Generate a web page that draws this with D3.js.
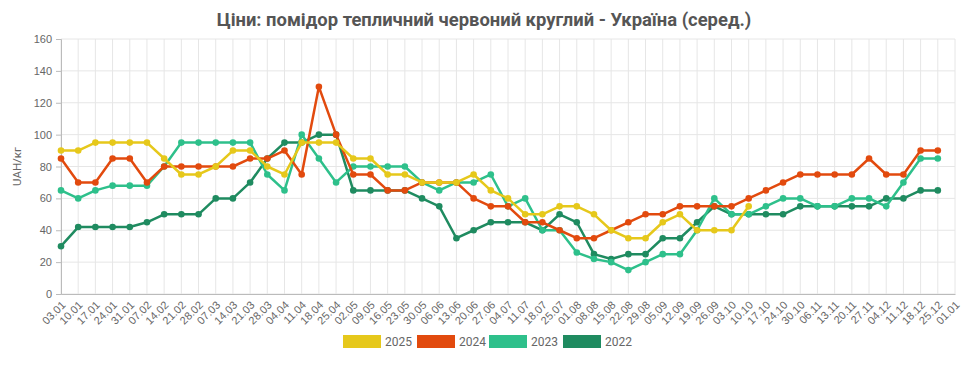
<!DOCTYPE html>
<html>
<head>
<meta charset="utf-8">
<script src="https://cdn.jsdelivr.net/npm/d3@7"></script>
<style>
  body { margin: 0; background: #fff; font-family: Roboto, "Noto Sans", sans-serif; }
  svg text { fill: #666; }
</style>
</head>
<body>
<div class="chart"></div>
<script>
var weeks = ["03.01","10.01","17.01","24.01","31.01","07.02","14.02","21.02","28.02","07.03","14.03","21.03","28.03","04.04","11.04","18.04","25.04","02.05","09.05","16.05","23.05","30.05","06.06","13.06","20.06","27.06","04.07","11.07","18.07","25.07","01.08","08.08","15.08","22.08","29.08","05.09","12.09","19.09","26.09","03.10","10.10","17.10","24.10","30.10","06.11","13.11","20.11","27.11","04.12","11.12","18.12","25.12","01.01"];

var years = ["2025", "2024", "2023", "2022"];
var colors = ["#e6c81b", "#e24a0e", "#2ec08b", "#1f8b60"];

var v2025 = [90,90,95,95,95,95,85,75,75,80,90,90,80,75,95,95,95,85,85,75,75,70,70,70,75,65,60,50,50,55,55,50,40,35,35,45,50,40,40,40,55];
var v2024 = [85,70,70,85,85,70,80,80,80,80,80,85,85,90,75,130,100,75,75,65,65,70,70,70,60,55,55,45,45,40,35,35,40,45,50,50,55,55,55,55,60,65,70,75,75,75,75,85,75,75,90,90];
var v2023 = [65,60,65,68,68,68,80,95,95,95,95,95,75,65,100,85,70,80,80,80,80,70,65,70,70,75,55,60,40,40,26,22,20,15,20,25,25,40,60,50,50,55,60,60,55,55,60,60,55,70,85,85];
var v2022 = [30,42,42,42,42,45,50,50,50,60,60,70,85,95,95,100,100,65,65,65,65,60,55,35,40,45,45,45,40,50,45,25,22,25,25,35,35,45,55,50,50,50,50,55,55,55,55,55,60,60,65,65];

var yTicks = [0, 20, 40, 60, 80, 100, 120, 140, 160];

var width = 966, height = 365;
var mLeft = 61, mRight = 955, mTop = 39, mBottom = 294;

var svg = d3.select(".chart")
  .append("svg")
  .attr("width", width)
  .attr("height", height);

var x = d3.scalePoint().domain(weeks).range([mLeft, mRight]);
var y = d3.scaleLinear().domain([0, 160]).range([mBottom, mTop]);

// title
svg.append("text")
  .attr("x", 484)
  .attr("y", 26)
  .attr("text-anchor", "middle")
  .style("font-size", "18.4px")
  .style("font-weight", "bold")
  .style("fill", "#555")
  .text("Ціни: помідор тепличний червоний круглий - Україна (серед.)");

// grid
svg.append("g")
  .selectAll("line")
  .data(weeks)
  .enter()
  .append("line")
  .attr("x1", function(d) { return x(d); })
  .attr("x2", function(d) { return x(d); })
  .attr("y1", mTop)
  .attr("y2", mBottom)
  .attr("stroke", "#e6e6e6");

svg.append("g")
  .selectAll("line")
  .data(yTicks)
  .enter()
  .append("line")
  .attr("x1", mLeft)
  .attr("x2", mRight)
  .attr("y1", function(d) { return y(d); })
  .attr("y2", function(d) { return y(d); })
  .attr("stroke", "#e6e6e6");

// axes
var yAxis = svg.append("g")
  .attr("transform", "translate(" + mLeft + ",0)")
  .call(d3.axisLeft(y).tickValues(yTicks).tickSize(5).tickPadding(4));
yAxis.select(".domain").attr("stroke", "#bbb");
yAxis.selectAll(".tick line").attr("stroke", "#bbb");
yAxis.selectAll("text").style("font-size", "11px").style("fill", "#666");

var xAxis = svg.append("g")
  .attr("transform", "translate(0," + mBottom + ")")
  .call(d3.axisBottom(x).tickSize(0).tickSizeOuter(0));
xAxis.select(".domain").attr("stroke", "#bbb");
xAxis.selectAll("text")
  .style("font-size", "11px")
  .style("fill", "#666")
  .attr("text-anchor", "end")
  .attr("x", 0)
  .attr("y", 0)
  .attr("dy", "0.35em")
  .attr("transform", "translate(2,9) rotate(-45)");

// y label
svg.append("text")
  .attr("transform", "translate(21," + ((mTop + mBottom) / 2) + ") rotate(-90)")
  .attr("text-anchor", "middle")
  .style("font-size", "11.5px")
  .style("fill", "#666")
  .text("UAH/кг");

// series, drawn oldest first so 2025 is on top
var series = [v2025, v2024, v2023, v2022];
var line = d3.line()
  .x(function(d, i) { return x(weeks[i]); })
  .y(function(d) { return y(d); });

for (var s = series.length - 1; s >= 0; s--) {
  var g = svg.append("g");
  g.append("path")
    .datum(series[s])
    .attr("d", line)
    .attr("fill", "none")
    .attr("stroke", colors[s])
    .attr("stroke-width", 2.5)
    .attr("stroke-linejoin", "round");
  g.selectAll("circle")
    .data(series[s])
    .enter()
    .append("circle")
    .attr("cx", function(d, i) { return x(weeks[i]); })
    .attr("cy", function(d) { return y(d); })
    .attr("r", 3.3)
    .attr("fill", colors[s]);
}

// legend
var legendX = [343, 417, 489, 563];
var legend = svg.append("g")
  .selectAll("g")
  .data(years)
  .enter()
  .append("g")
  .attr("transform", function(d, i) { return "translate(" + legendX[i] + ",335)"; });

legend.append("rect")
  .attr("width", 38)
  .attr("height", 13)
  .attr("fill", function(d, i) { return colors[i]; });

legend.append("text")
  .attr("x", 42)
  .attr("y", 11)
  .style("font-size", "12px")
  .style("fill", "#666")
  .text(function(d) { return d; });
</script>
</body>
</html>
